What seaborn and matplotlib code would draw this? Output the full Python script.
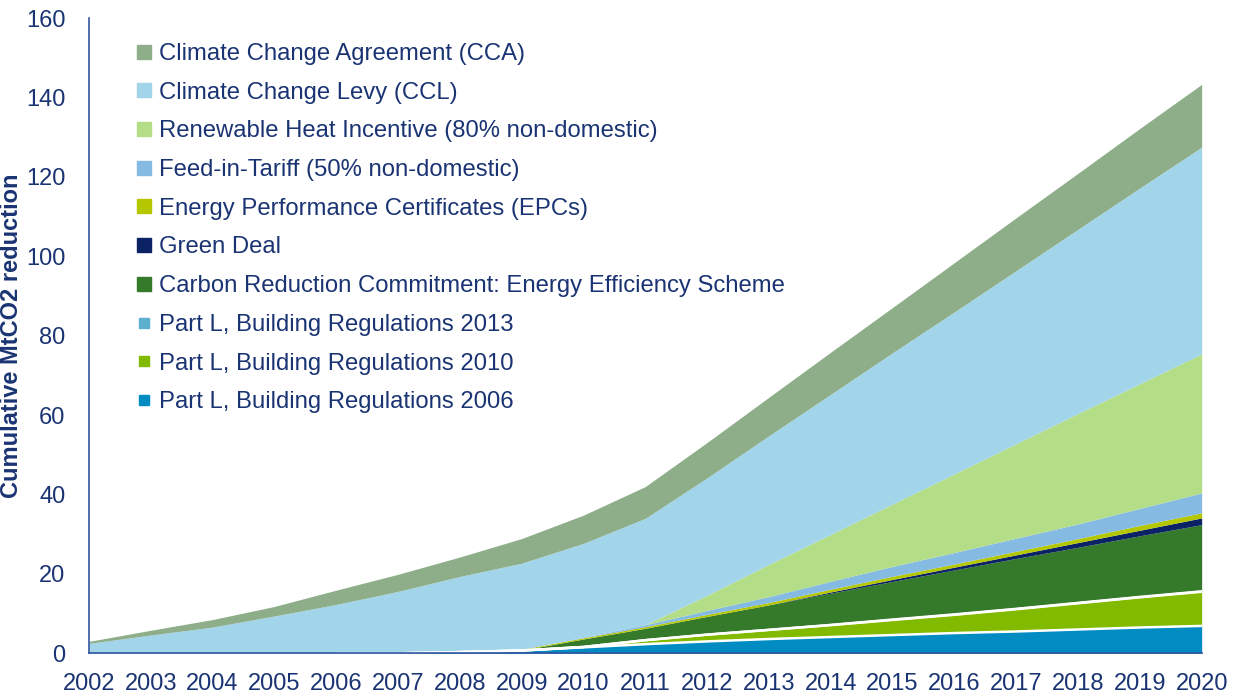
import matplotlib
matplotlib.use("Agg")
import matplotlib.pyplot as plt
from matplotlib.lines import Line2D
import numpy as np
import pandas as pd
import seaborn as sns

## DATA ##
years = list(range(2002, 2021))

part_l_2006 = [0, 0, 0, 0, 0, 0, 0.3, 0.7, 1.5, 2.3, 3.0, 3.6, 4.1, 4.6, 5.1, 5.5, 6.0, 6.5, 6.9]
part_l_2010 = [0, 0, 0, 0, 0, 0, 0, 0, 0.1, 1.0, 1.7, 2.3, 3.0, 3.8, 4.6, 5.6, 6.6, 7.6, 8.6]
part_l_2013 = [0, 0, 0, 0, 0, 0, 0, 0, 0, 0, 0, 0, 0.05, 0.1, 0.1, 0.1, 0.1, 0.1, 0.1]
crc = [0, 0, 0, 0, 0, 0, 0, 0.1, 2.0, 3.0, 4.6, 6.3, 8.0, 9.6, 11.2, 12.7, 14.0, 15.4, 16.8]
green_deal = [0, 0, 0, 0, 0, 0, 0, 0, 0, 0, 0, 0, 0.3, 0.5, 0.7, 0.9, 1.2, 1.4, 1.7]
epcs = [0, 0, 0, 0, 0, 0, 0.05, 0.2, 0.3, 0.4, 0.5, 0.6, 0.7, 0.8, 0.8, 0.9, 1.0, 1.2, 1.3]
fit = [0, 0, 0, 0, 0, 0, 0, 0, 0.1, 0.5, 1.0, 1.5, 2.0, 2.5, 2.9, 3.3, 3.7, 4.3, 5.0]
rhi = [0, 0, 0, 0, 0, 0, 0, 0, 0, 0, 3.8, 8.1, 11.8, 15.7, 19.8, 23.8, 27.8, 31.4, 35.0]
ccl = [2.5, 4.6, 6.6, 9.4, 12.3, 15.6, 19.0, 21.7, 23.7, 26.8, 29.6, 32.4, 35.3, 38.1, 40.8, 43.6, 46.4, 49.3, 52.1]
cca = [0.5, 1.2, 1.9, 2.4, 3.6, 4.3, 4.9, 6.2, 7.1, 8.0, 8.9, 9.7, 10.6, 11.4, 12.4, 13.3, 14.1, 15.0, 15.8]

labels = ["Part L, Building Regulations 2006",
          "Part L, Building Regulations 2010",
          "Part L, Building Regulations 2013",
          "Carbon Reduction Commitment: Energy Efficiency Scheme",
          "Green Deal",
          "Energy Performance Certificates (EPCs)",
          "Feed-in-Tariff (50% non-domestic)",
          "Renewable Heat Incentive (80% non-domestic)",
          "Climate Change Levy (CCL)",
          "Climate Change Agreement (CCA)"]
colors = ["#008CC2", "#82BA00", "#5BAFCF", "#35792A", "#0B2265",
          "#B5C700", "#85BBE2", "#B3DE87", "#A3D5EA", "#8DAE88"]

df = pd.DataFrame({"year": years})
for lab, vals in zip(labels, [part_l_2006, part_l_2010, part_l_2013, crc, green_deal,
                             epcs, fit, rhi, ccl, cca]):
    df[lab] = vals

## STYLE ##
sns.set_theme(style="white")
plt.rcParams["font.family"] = ["Liberation Sans", "DejaVu Sans"]
navy = "#1A3473"

fig = plt.figure(figsize=(12.35, 6.95), dpi=100)
ax = fig.add_axes([0.072, 0.060, 0.901, 0.914])

ax.stackplot(df["year"], *[df[l] for l in labels], colors=colors, linewidth=0)

# white separators above the building regulation layers
cum = df[labels].cumsum(axis=1)
for col in labels[:3]:
    mask = df["year"] >= 2006
    ax.plot(df["year"][mask], cum[col][mask], color="white", lw=1.8, zorder=3)

ax.set_xlim(2002, 2020)
ax.set_ylim(0, 160)
ax.set_xticks(years)
ax.set_yticks(range(0, 161, 20))
ax.tick_params(axis="both", length=0, labelsize=17, colors=navy)
ax.tick_params(axis="x", pad=14)
ax.tick_params(axis="y", pad=17)
sns.despine(ax=ax)
for s in ["left", "bottom"]:
    ax.spines[s].set_color("#3355A0")
    ax.spines[s].set_linewidth(1.2)
    ax.spines[s].set_zorder(5)

ax.set_ylabel("Cumulative MtCO2 reduction", fontsize=17, fontweight="bold",
              color=navy, labelpad=2)

## LEGEND ##
handles = []
for lab, c in zip(labels, colors):
    ms = 6.5 if lab.startswith("Part L") else 9.5
    handles.append(Line2D([], [], marker="s", linestyle="none", markersize=ms,
                          markerfacecolor=c, markeredgecolor=c, label=lab))
leg = ax.legend(handles=handles[::-1], loc="upper left",
                bbox_to_anchor=(0.0325, 0.976), frameon=False,
                fontsize=17.2, labelspacing=0.70, handletextpad=0.2,
                handlelength=0.8, borderaxespad=0)
for t in leg.get_texts():
    t.set_color(navy)

fig.savefig("out.png", dpi=100)
